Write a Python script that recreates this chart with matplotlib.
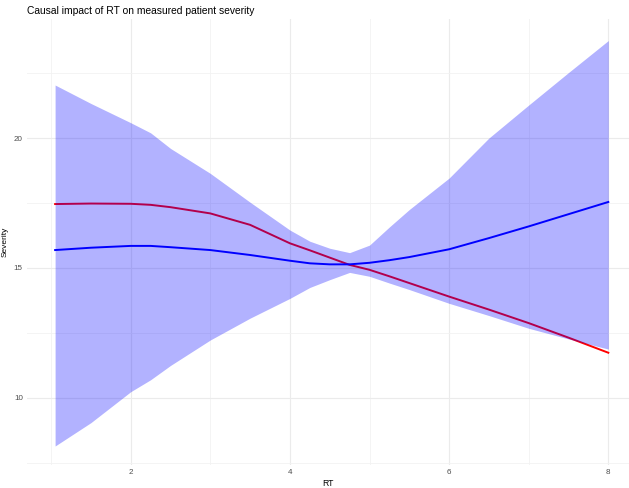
import numpy as np
import matplotlib
matplotlib.use("Agg")
import matplotlib.pyplot as plt
from matplotlib.ticker import MultipleLocator

plt.rcParams['font.family'] = ['Liberation Sans', 'DejaVu Sans']

# RT grid and the estimated severity curves
rt = [1.05, 1.5, 2.0, 2.25, 2.5, 3.0, 3.5, 4.0, 4.25, 4.5, 4.75,
      5.0, 5.25, 5.5, 6.0, 6.5, 7.0, 7.5, 8.0]
ci_upper = [22.04, 21.33, 20.59, 20.2, 19.6, 18.64, 17.53, 16.46, 16.03, 15.76, 15.59,
            15.88, 16.58, 17.25, 18.46, 20.0, 21.27, 22.52, 23.75]
ci_lower = [8.15, 9.05, 10.24, 10.7, 11.25, 12.23, 13.07, 13.83, 14.25, 14.55, 14.83,
            14.68, 14.42, 14.17, 13.64, 13.17, 12.68, 12.27, 11.88]
causal = [15.69, 15.78, 15.85, 15.85, 15.8, 15.69, 15.5, 15.28, 15.18, 15.14, 15.14,
          15.2, 15.3, 15.42, 15.72, 16.15, 16.6, 17.07, 17.54]
observed = [17.46, 17.48, 17.47, 17.43, 17.34, 17.1, 16.66, 15.95, 15.68, 15.4, 15.12,
            14.93, 14.68, 14.42, 13.9, 13.4, 12.88, 12.32, 11.74]

fig = plt.figure(figsize=(6.29, 4.88), dpi=100)
ax = fig.add_axes([27/629, 23/488, 602/629, 446/488])

ax.plot(rt, observed, color='red', lw=1.4, zorder=2)
ax.fill_between(rt, ci_lower, ci_upper, color='blue', alpha=0.3, lw=0, zorder=3)
ax.plot(rt, causal, color='blue', lw=1.4, zorder=4)

ax.set_xlim(0.697, 8.26)
ax.set_ylim(7.42, 24.58)
ax.xaxis.set_major_locator(MultipleLocator(2))
ax.xaxis.set_minor_locator(MultipleLocator(1))
ax.yaxis.set_major_locator(MultipleLocator(5))
ax.yaxis.set_minor_locator(MultipleLocator(2.5))

ax.grid(which='major', color='#EBEBEB', lw=0.8)
ax.grid(which='minor', color='#F2F2F2', lw=0.6)
ax.set_axisbelow(True)
for s in ax.spines.values():
    s.set_visible(False)
ax.tick_params(which='both', length=0, labelsize=5.8, labelcolor='#4D4D4D', pad=3)

ax.set_xlabel('RT', fontsize=6.2, labelpad=2)
ax.set_ylabel('Severity', fontsize=6.0, labelpad=4)
fig.text(27/629, 1 - 11/488, 'Causal impact of RT on measured patient severity',
         fontsize=7.4, ha='left', va='center')

fig.savefig('out.png', dpi=100)
